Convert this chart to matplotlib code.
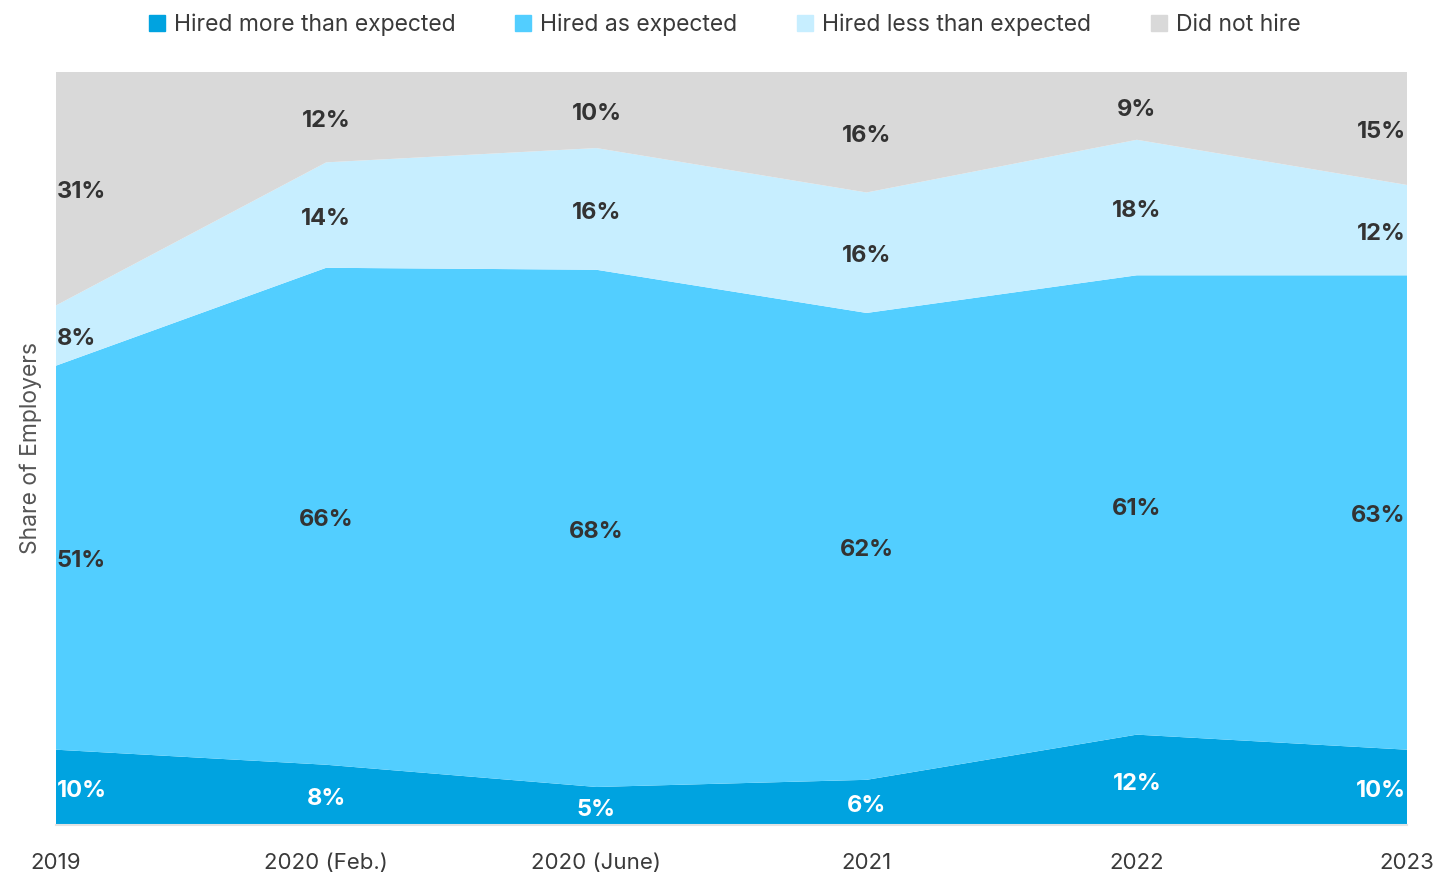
import numpy as np
import matplotlib.pyplot as plt

categories = ["2019", "2020 (Feb.)", "2020 (June)", "2021", "2022", "2023"]
series_names = ["Hired more than expected", "Hired as expected",
                "Hired less than expected", "Did not hire"]
more = [10, 8, 5, 6, 12, 10]
as_exp = [51, 66, 68, 62, 61, 63]
less = [8, 14, 16, 16, 18, 12]
none_ = [31, 12, 10, 16, 9, 15]

colors = ["#00A3E0", "#52CEFF", "#C7EEFF", "#D9D9D9"]
label_colors = ["white", "#333333", "#333333", "#333333"]

plt.rcParams['font.family'] = ['Inter', 'DejaVu Sans']

fig = plt.figure(figsize=(14.49, 8.73), dpi=100)
ax = fig.add_axes([56/1449, 48/873, (1407-56)/1449, (825-72)/873])

data = np.array([more, as_exp, less, none_], dtype=float)
totals = data.sum(axis=0)
norm = data / totals * 100
x = np.arange(len(categories))

ax.stackplot(x, norm, colors=colors, linewidth=0)
ax.set_xlim(0, len(categories) - 1)
ax.set_ylim(0, 100)

cum = np.cumsum(norm, axis=0)
for i in range(data.shape[0]):
    for j in range(len(categories)):
        top = cum[i, j]
        bottom = top - norm[i, j]
        ymid = (top + bottom) / 2 - 0.5
        if j == 0:
            xp, ha = x[j] + 0.003, 'left'
        elif j == len(categories) - 1:
            xp, ha = x[j] - 0.005, 'right'
        else:
            xp, ha = x[j], 'center'
        ax.text(xp, ymid, f"{int(data[i, j])}%", ha=ha, va='center',
                fontsize=17, fontweight='bold', color=label_colors[i])

ax.set_xticks(x)
ax.set_xticklabels(categories, fontsize=16, color='#3a3a3a')
ax.tick_params(axis='x', length=0, pad=20)
ax.set_yticks([])
for s in ['top', 'right', 'left']:
    ax.spines[s].set_visible(False)
ax.spines['bottom'].set_color('#e3e3e3')
ax.spines['bottom'].set_linewidth(1.5)

ax.set_ylabel("Share of Employers", fontsize=16.5, color='#555555', labelpad=10)

handles = [plt.Rectangle((0, 0), 1, 1, color=c) for c in colors]
fig.legend(handles, series_names, loc='upper center', bbox_to_anchor=(0.5, 1.008),
           ncol=4, frameon=False, fontsize=16.5, handlelength=0.7, handleheight=0.7,
           handletextpad=0.4, columnspacing=2.6, labelcolor='#3a3a3a')

fig.savefig("out.png", dpi=100)
